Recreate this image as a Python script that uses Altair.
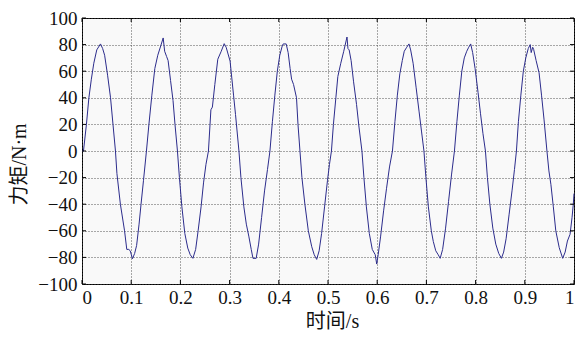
import altair as alt
import pandas as pd

# time (s) and torque (N·m)
t_vals = [
    0.000, 0.003, 0.009, 0.014, 0.019, 0.024, 0.030, 0.0376, 0.042, 0.046, 0.052, 0.058, 0.063, 0.068,
    0.071, 0.078, 0.0865, 0.091, 0.095, 0.098, 0.1026, 0.107, 0.111, 0.116, 0.120, 0.125, 0.131,
    0.136, 0.142, 0.148, 0.154, 0.160, 0.165, 0.168, 0.172, 0.175, 0.180, 0.185, 0.189, 0.194,
    0.198, 0.203, 0.209, 0.215, 0.220, 0.2254, 0.231, 0.236, 0.242, 0.247, 0.252, 0.257,
    0.262, 0.265, 0.270, 0.276, 0.283, 0.289, 0.293, 0.301, 0.308, 0.312, 0.319,
    0.323, 0.329, 0.334, 0.339, 0.344, 0.3475, 0.354, 0.359, 0.365, 0.371, 0.377, 0.382,
    0.387, 0.392, 0.397, 0.402, 0.407, 0.409, 0.415, 0.419, 0.423, 0.426, 0.430, 0.436, 0.439, 0.443,
    0.447, 0.453, 0.460, 0.467, 0.472, 0.477, 0.482, 0.487, 0.493, 0.499, 0.503, 0.507,
    0.511, 0.516, 0.520, 0.526, 0.532, 0.5386, 0.5406, 0.543, 0.547, 0.552, 0.558, 0.563, 0.569,
    0.573, 0.578, 0.584, 0.590, 0.596, 0.599, 0.602, 0.607, 0.613, 0.619, 0.625, 0.631,
    0.636, 0.641, 0.646, 0.651, 0.655, 0.660, 0.6646, 0.668, 0.673, 0.679, 0.685, 0.690, 0.695,
    0.699, 0.704, 0.710, 0.714, 0.719, 0.724, 0.728, 0.733, 0.739, 0.745, 0.751, 0.757,
    0.762, 0.767, 0.772, 0.777, 0.782, 0.786, 0.790, 0.794, 0.799, 0.805, 0.810, 0.815, 0.820,
    0.824, 0.829, 0.835, 0.841, 0.847, 0.8525, 0.857, 0.862, 0.868, 0.874, 0.879, 0.883,
    0.887, 0.892, 0.897, 0.902, 0.907, 0.911, 0.913, 0.916, 0.918, 0.923, 0.929, 0.934, 0.939, 0.945,
    0.949, 0.953, 0.958, 0.963, 0.970, 0.977, 0.982, 0.9866, 0.992, 0.996, 0.9986, 1.000,
]
torque_vals = [
    0, 0, 20, 40, 54, 66, 76, 80.5, 77, 72, 57, 40, 20, 0,
    -17, -40, -60, -74, -74, -75, -81, -77, -71, -55, -40, -22, 0,
    20, 42, 62, 72, 79, 85, 75, 71, 68, 53, 38, 20, 0,
    -20, -42, -62, -73, -78, -80.7, -74, -60, -42, -24, -10, 0,
    31, 33, 50, 69, 75, 80.7, 78, 67.6, 42, 27.5, 0,
    -20, -42, -55, -64, -74, -80.7, -80.7, -70, -50, -30, -14, 0,
    22, 42, 60, 72, 79, 80.5, 80.5, 74, 62, 54, 50, 40, 20, 0,
    -20, -40, -60, -72, -78, -81.5, -75, -62, -42, -22, -10, 0,
    20, 40, 56, 66, 75, 85.7, 77, 76, 68, 52, 35, 18, 0,
    -20, -42, -62, -74, -78, -85, -78, -64, -45, -28, -12, 0,
    22, 42, 58, 68, 75, 78, 80.5, 76, 66, 48, 30, 15, 0,
    -20, -42, -60, -68, -75, -78, -80.7, -74, -58, -38, -18, 0,
    22, 42, 60, 70, 75, 78, 80.5, 74, 62, 44, 28, 13, 0,
    -20, -40, -58, -70, -77, -80.7, -76, -66, -48, -30, -14, 0,
    22, 42, 60, 70, 77, 80, 74, 78, 76.4, 68, 58.8, 42, 24, 0,
    -15, -25, -42, -60, -72.7, -80.7, -76, -67.7, -62.6, -50, -40, -32,
]
x_ticks = [0, 0.1, 0.2, 0.3, 0.4, 0.5, 0.6, 0.7, 0.8, 0.9, 1]
y_ticks = [-100, -80, -60, -40, -20, 0, 20, 40, 60, 80, 100]

W, H = 492, 266
SERIF = "Liberation Serif"
TITLE_FONT = "Liberation Serif, Noto Sans CJK SC"

df = pd.DataFrame({"t": t_vals, "y": torque_vals})
dfx = pd.DataFrame({"t": x_ticks})
dfy = pd.DataFrame({"y": y_ticks})

xscale = alt.Scale(domain=[0, 1], nice=False, zero=False)
yscale = alt.Scale(domain=[-100, 100], nice=False, zero=False)

xaxis = alt.Axis(values=x_ticks, format="~g", title="时间/s", grid=True,
                 ticks=False, tickSize=0, labelPadding=4, domain=False,
                 labelOverlap=False, labelFont=SERIF, labelFontSize=19,
                 titleX=W / 2 + 4, titleY=37, titleBaseline="middle")
yaxis = alt.Axis(values=y_ticks, format="d", title="力矩/N·m", grid=True,
                 ticks=False, tickSize=0, labelPadding=5, domain=False,
                 labelOverlap=False, labelFont=SERIF, labelFontSize=19,
                 titleX=-63, titleY=146, titleBaseline="middle")

X = alt.X("t:Q", scale=xscale, axis=xaxis, title="时间/s")
Y = alt.Y("y:Q", scale=yscale, axis=yaxis, title="力矩/N·m")

line = alt.Chart(df).mark_line(color="#2c2c8c", strokeWidth=1).encode(x=X, y=Y)

xt_bottom = alt.Chart(dfx).mark_rule(color="black", strokeWidth=1).encode(
    x=X, y=alt.value(H), y2=alt.value(H - 4))
xt_top = alt.Chart(dfx).mark_rule(color="black", strokeWidth=1).encode(
    x=X, y=alt.value(0), y2=alt.value(4))
yt_left = alt.Chart(dfy).mark_rule(color="black", strokeWidth=1).encode(
    y=Y, x=alt.value(0), x2=alt.value(4))
yt_right = alt.Chart(dfy).mark_rule(color="black", strokeWidth=1).encode(
    y=Y, x=alt.value(W), x2=alt.value(W - 4))

chart = alt.layer(line, xt_bottom, xt_top, yt_left, yt_right).properties(
    width=W, height=H,
    autosize=alt.AutoSizeParams(type="none"),
    padding={"left": 74, "top": 10, "right": 4, "bottom": 47},
    background="white",
).configure_view(
    stroke="black", strokeWidth=1, fill="#f9f9f9"
).configure_axis(
    labelFont=SERIF, labelFontSize=19, labelColor="#111", labelOverlap=False,
    titleFont=TITLE_FONT, titleFontSize=20, titleFontWeight="normal", titleColor="#111",
    gridColor="#444", gridDash=[1, 2], gridWidth=1, gridOpacity=0.9,
)

chart.save("out.html", embed_options={"renderer": "svg", "actions": False})
